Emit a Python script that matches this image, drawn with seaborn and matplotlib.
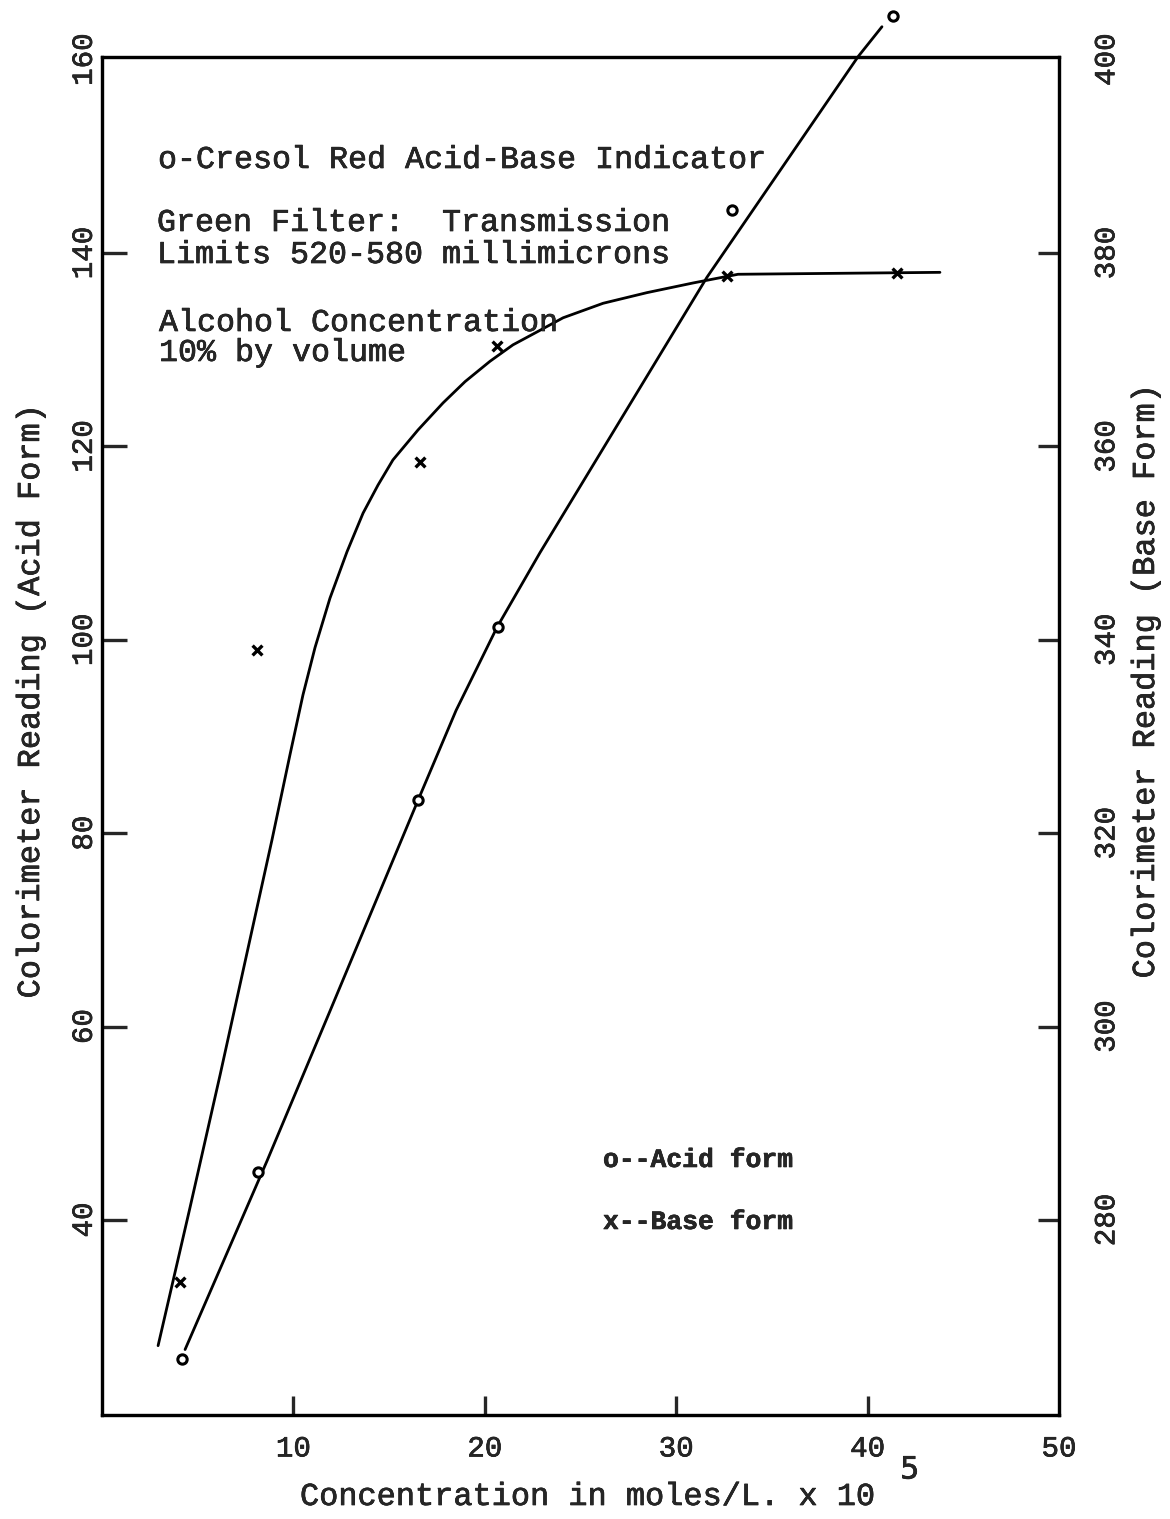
import matplotlib
matplotlib.use("Agg")
import matplotlib.pyplot as plt
import matplotlib.patheffects as pe
import seaborn as sns
import pandas as pd

# ---- data ----
acid_x = [4.18, 8.15, 16.51, 20.69, 32.9, 41.33]
acid_y = [25.6, 45.0, 83.4, 101.3, 144.4, 164.5]          # left axis (acid form)

base_x = [4.08, 8.10, 16.61, 20.64, 32.65, 41.54]
base_y = [273.6, 338.9, 358.4, 370.4, 377.6, 377.9]        # right axis (base form)

# hand-drawn curves
acid_curve_x = [4.34, 8.62, 11.91, 16.51, 18.50, 20.64, 22.88, 31.61, 39.50, 40.75]
acid_curve_y = [26.6, 46.1, 61.6, 83.4, 92.7, 101.3, 109.0, 137.5, 160.3, 163.4]

base_curve_x = [2.93, 4.60, 6.17, 7.73, 8.88, 9.82, 10.50, 11.13, 11.91, 12.80, 13.64, 14.42,
                15.20, 16.51, 17.82, 18.97, 20.27, 21.47, 22.88, 24.09, 26.18, 28.47, 30.88,
                31.92, 33.23, 43.78]
base_curve_y = [267.0, 281.3, 295.0, 309.0, 319.3, 328.1, 334.3, 339.2, 344.3, 349.1, 353.1, 356.0,
                358.6, 361.7, 364.5, 366.7, 368.8, 370.5, 372.0, 373.3, 374.8, 375.9, 376.9,
                377.3, 377.8, 378.0]

x_ticks = [10, 20, 30, 40, 50]
left_ticks = [40, 60, 80, 100, 120, 140, 160]
right_ticks = [280, 300, 320, 340, 360, 380, 400]

title_lines = ["o-Cresol Red Acid-Base Indicator",
               "Green Filter:  Transmission",
               "Limits 520-580 millimicrons",
               "Alcohol Concentration",
               "10% by volume"]
legend_lines = ["o--Acid form", "x--Base form"]

# ---- style ----
sns.set_style("ticks")
plt.rcParams['font.family'] = ['Liberation Mono', 'DejaVu Sans Mono']

W, H = 1170, 1519
fig = plt.figure(figsize=(W / 100, H / 100), dpi=100)
L, R, T, B = 102, 1059, 57, 1415
ax = fig.add_axes([L / W, 1 - B / H, (R - L) / W, (B - T) / H])
ax2 = ax.twinx()

def fx(px):
    return px / W

def fy(py):
    return 1 - py / H

ink = "black"
lw = 2.0
heavy = [pe.withStroke(linewidth=0.45, foreground=ink)]

acid_curve = pd.DataFrame({"x": acid_curve_x, "y": acid_curve_y})
base_curve = pd.DataFrame({"x": base_curve_x, "y": base_curve_y})
acid_pts = pd.DataFrame({"x": acid_x, "y": acid_y})
base_pts = pd.DataFrame({"x": base_x, "y": base_y})

sns.lineplot(data=acid_curve, x="x", y="y", sort=False, estimator=None, color=ink, lw=lw, ax=ax)
ax.lines[-1].set_clip_on(False)
ax.lines[-1].set_solid_joinstyle("round")
sns.scatterplot(data=acid_pts, x="x", y="y", marker="o", s=45, facecolor="white",
                edgecolor=ink, linewidth=2.2, ax=ax, zorder=5)
ax.collections[-1].set_clip_on(False)

sns.lineplot(data=base_curve, x="x", y="y", sort=False, estimator=None, color=ink, lw=lw, ax=ax2)
ax2.lines[-1].set_solid_joinstyle("round")
sns.scatterplot(data=base_pts, x="x", y="y", marker="x", s=50, color=ink, linewidth=2.4, ax=ax2, zorder=5)

ax.set_xlim(0, 50)
ax.set_ylim(19.83, 160.27)
ax2.set_ylim(259.83, 400.27)

for a in (ax, ax2):
    a.set_xlabel("")
    a.set_ylabel("")
    for s in a.spines.values():
        s.set_linewidth(2.3)
        s.set_color(ink)
        s.set_visible(True)

ax.set_xticks(x_ticks)
ax.set_xticklabels([str(t) for t in x_ticks], fontsize=21)
ax.set_yticks(left_ticks)
ax.set_yticklabels([str(t) for t in left_ticks], fontsize=21, rotation=90, va="center")
ax2.set_yticks(right_ticks)
ax2.set_yticklabels([str(t) for t in right_ticks], fontsize=21, rotation=90, va="center")
for lab in ax.get_xticklabels() + ax.get_yticklabels() + ax2.get_yticklabels():
    lab.set_path_effects(heavy)

ax.tick_params(axis="x", direction="in", length=14, width=2.4, pad=14, top=False)
ax.tick_params(axis="y", direction="in", length=18, width=2.4, pad=3, right=False)
ax2.tick_params(axis="y", direction="in", length=15, width=2.4, pad=24, left=False)

# no tick marks at the corners (top of both y scales, right end of x scale)
ax.yaxis.get_major_ticks()[-1].tick1line.set_visible(False)
ax2.yaxis.get_major_ticks()[-1].tick2line.set_visible(False)
ax.xaxis.get_major_ticks()[-1].tick1line.set_visible(False)

# axis titles
fig.text(fx(31), fy(700), "Colorimeter Reading (Acid Form)", rotation=90,
         ha="center", va="center", fontsize=23, path_effects=heavy)
fig.text(fx(1146), fy(680), "Colorimeter Reading (Base Form)", rotation=90,
         ha="center", va="center", fontsize=23, path_effects=heavy)
fig.text(fx(300), fy(1497), "Concentration in moles/L. x 10", ha="left", va="center",
         fontsize=23, path_effects=heavy)
fig.text(fx(900), fy(1470), "5", ha="left", va="center", fontsize=22, family="DejaVu Sans",
         path_effects=heavy)

# annotation block
pos = [(158, 160), (157, 223), (157, 255), (159, 323), (159, 353)]
for (px, py), line in zip(pos, title_lines):
    fig.text(fx(px), fy(py), line, ha="left", va="center", fontsize=22.8, path_effects=heavy)

# legend
bold_fx = [pe.withStroke(linewidth=0.4, foreground=ink)]
fig.text(fx(603), fy(1160), legend_lines[0], ha="left", va="center", fontsize=19,
         fontweight="bold", path_effects=bold_fx)
fig.text(fx(603), fy(1222), legend_lines[1], ha="left", va="center", fontsize=19,
         fontweight="bold", path_effects=bold_fx)

fig.savefig("out.png", dpi=100, facecolor="white")
